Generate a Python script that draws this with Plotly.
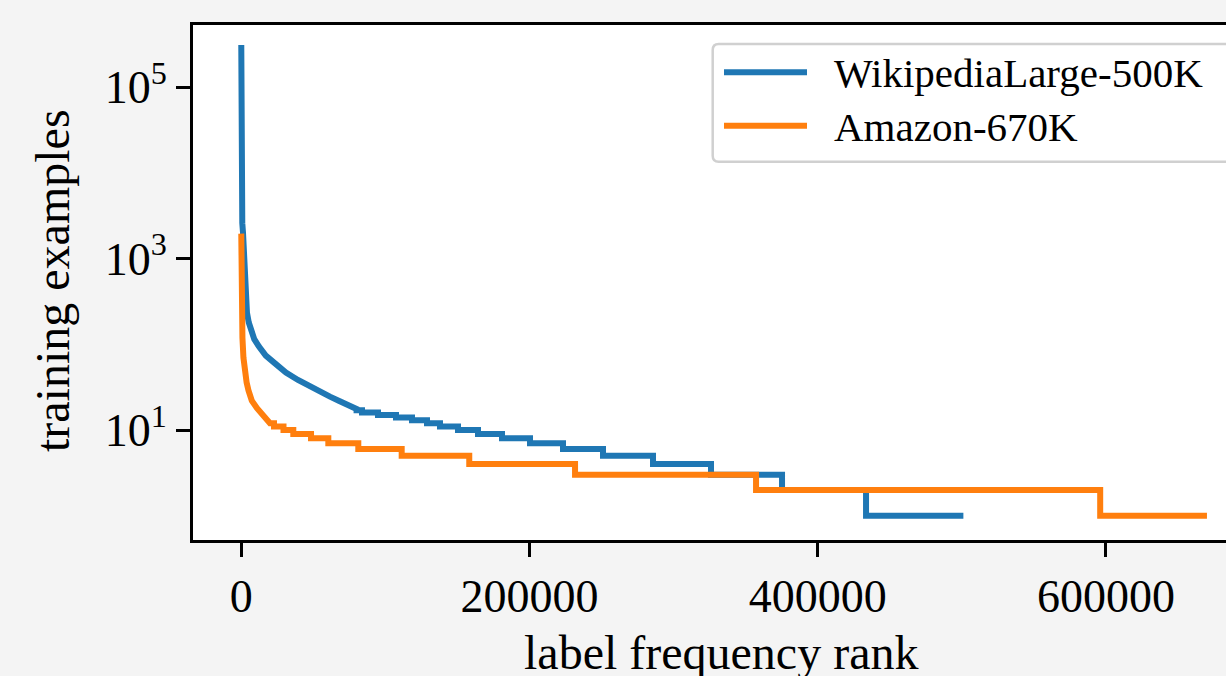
import plotly.graph_objects as go

# ---------------- data ----------------
# WikipediaLarge-500K : smooth head, then integer step levels
wiki_curve_rank = [0, 20, 100, 300, 700, 1200, 1800, 2570, 3200, 3960, 5200, 6730,
                   9000, 12280, 17000, 23400, 31000, 39350, 47000, 54600, 61550,
                   68000, 74740, 80000]
wiki_curve_count = [312000, 25000, 8000, 4000, 2600, 2000, 1000, 565, 350, 233, 180,
                    147, 115, 94, 74, 60, 47, 38.4, 32.5, 28, 24.5, 21.8, 19.8, 17.6]
wiki_step_start = [80000, 83760, 94860, 107360, 118460, 128870, 137890, 150380,
                   164260, 180920, 200350, 223250, 251000, 285700, 325950, 375230,
                   433520]
wiki_step_count = [17, 16, 15, 14, 13, 12, 11, 10, 9, 8, 7, 6, 5, 4, 3, 2, 1]
wiki_end_rank = 501070

# Amazon-670K
amz_curve_rank = [0, 100, 300, 800, 1500, 2500, 3700, 5000, 7300, 10900, 15300, 19000]
amz_curve_count = [1960, 600, 300, 120, 70, 48, 36, 29, 22, 18, 15, 13]
amz_step_start = [19900, 22700, 29300, 36100, 48400, 60400, 81200, 111300, 158200,
                  231600, 357200, 596000]
amz_step_count = [12, 11, 10, 9, 8, 7, 6, 5, 4, 3, 2, 1]
amz_end_rank = 670091

series_names = ["WikipediaLarge-500K", "Amazon-670K"]
series_colors = ["#1f77b4", "#ff7f0e"]

x_tickvals = [0, 200000, 400000, 600000]
x_ticktext = ["0", "200000", "400000", "600000"]
y_tickvals = [1e1, 1e3, 1e5]
y_ticktext = ["10<sup>1</sup>", "10<sup>3</sup>", "10<sup>5</sup>"]


def build(curve_r, curve_c, step_s, step_c, end):
    xs = list(curve_r)
    ys = list(curve_c)
    bounds = list(step_s) + [end]
    for i, c in enumerate(step_c):
        xs += [bounds[i], bounds[i + 1]]
        ys += [c, c]
    return xs, ys


wx, wy = build(wiki_curve_rank, wiki_curve_count, wiki_step_start, wiki_step_count, wiki_end_rank)
ax, ay = build(amz_curve_rank, amz_curve_count, amz_step_start, amz_step_count, amz_end_rank)

FONT = "Liberation Serif"
W, H = 1226, 676
L, T, B, R = 193, 25, 540, 1226   # plot area in pixels


def px(xp):
    return (xp - L) / (R - L)


def py(yp):
    return (B - yp) / (B - T)


fig = go.Figure()
fig.add_trace(go.Scatter(x=wx, y=wy, mode="lines", name=series_names[0],
                         line=dict(color=series_colors[0], width=6),
                         showlegend=False))
fig.add_trace(go.Scatter(x=ax, y=ay, mode="lines", name=series_names[1],
                         line=dict(color=series_colors[1], width=6),
                         showlegend=False))

# ---- legend drawn by hand (matplotlib style) ----
x0, x1 = px(712.7), px(1260)
y0, y1 = py(161.7), py(44)
rx, ry = 6 / (R - L), 6 / (B - T)
path = (f"M {x0 + rx},{y1} L {x1},{y1} L {x1},{y0} L {x0 + rx},{y0} "
        f"Q {x0},{y0} {x0},{y0 + ry} L {x0},{y1 - ry} Q {x0},{y1} {x0 + rx},{y1} Z")
shapes = [dict(type="path", path=path, xref="paper", yref="paper",
               fillcolor="rgba(255,255,255,0.9)", line=dict(color="#d0d0d0", width=2.5))]
legend_y = [72.3, 125.7]
annotations = []
for name, col, ly in zip(series_names, series_colors, legend_y):
    shapes.append(dict(type="line", xref="paper", yref="paper",
                       x0=px(724), x1=px(807), y0=py(ly), y1=py(ly),
                       line=dict(color=col, width=6)))
    annotations.append(dict(text=name, xref="paper", yref="paper", x=px(832),
                            y=py(ly + 1), xanchor="left", yanchor="middle",
                            showarrow=False, font=dict(family=FONT, size=41, color="black")))

# axis titles
annotations.append(dict(text="label frequency rank", xref="paper", yref="paper",
                        x=px(721), y=py(652), xanchor="center", yanchor="middle",
                        showarrow=False, font=dict(family=FONT, size=48, color="black")))
annotations.append(dict(text="training examples", xref="paper", yref="paper",
                        x=px(52), y=py(281), xanchor="center", yanchor="middle",
                        textangle=-90, showarrow=False,
                        font=dict(family=FONT, size=48, color="black")))

fig.update_layout(
    width=W, height=H,
    margin=dict(l=L, r=W - R, t=T, b=H - B, pad=0),
    paper_bgcolor="#f4f4f4", plot_bgcolor="white",
    font=dict(family=FONT, size=46, color="black"),
    shapes=shapes, annotations=annotations,
    showlegend=False,
)
fig.update_xaxes(range=[-33500, 683300], tickvals=x_tickvals, ticktext=x_ticktext,
                 showgrid=False, zeroline=False, showline=True, linecolor="black",
                 linewidth=3, mirror=True, ticks="outside", ticklen=14, tickwidth=3,
                 tickcolor="black", tickfont=dict(family=FONT, size=46))
fig.update_yaxes(type="log", range=[-0.284, 5.728], tickvals=y_tickvals,
                 ticktext=y_ticktext, showgrid=False, zeroline=False, showline=True,
                 linecolor="black", linewidth=3, mirror=False, ticks="outside",
                 ticklen=14, tickwidth=3, tickcolor="black",
                 tickfont=dict(family=FONT, size=46))

fig.write_html("out.html")
